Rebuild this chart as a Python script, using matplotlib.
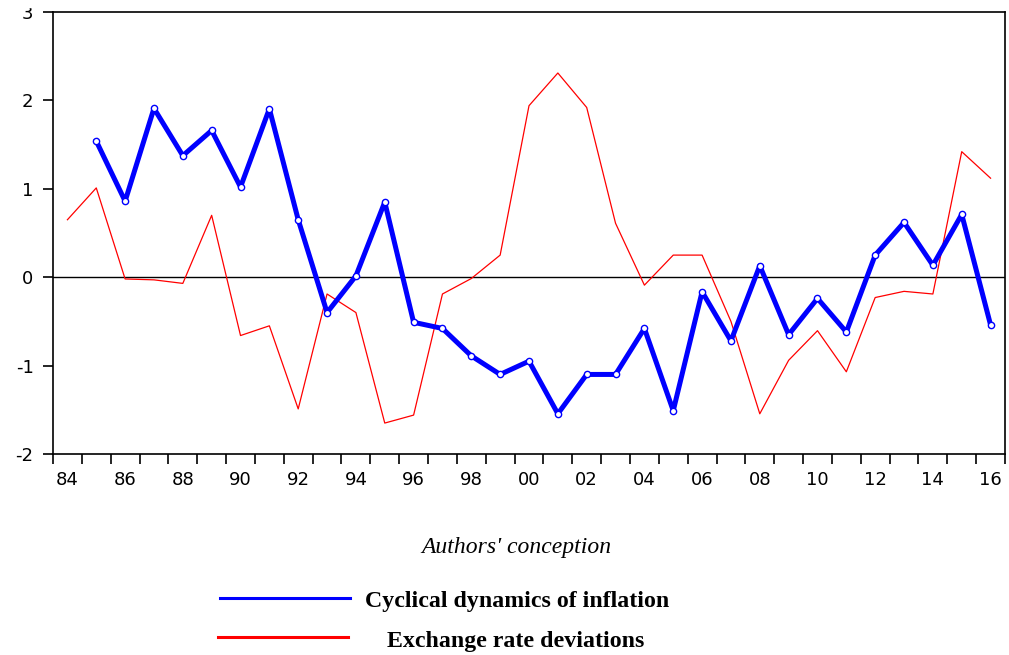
import matplotlib
matplotlib.use("Agg")
import matplotlib.pyplot as plt
from matplotlib.lines import Line2D
from matplotlib.patches import Rectangle

# annual observations, 1984-2016
years = list(range(1984, 2017))

# inflation cycle starts one year later (1985)
inflation_years = list(range(1985, 2017))
inflation = [1.54, 0.86, 1.91, 1.375, 1.66, 1.02, 1.905, 0.65, -0.40, 0.015,
             0.85, -0.51, -0.58, -0.89, -1.10, -0.95, -1.545, -1.10, -1.10, -0.58,
             -1.51, -0.165, -0.72, 0.13, -0.65, -0.24, -0.62, 0.25, 0.62, 0.135,
             0.71, -0.54]

exchange = [0.65, 1.01, -0.02, -0.03, -0.07, 0.70, -0.66, -0.55, -1.49, -0.19,
            -0.40, -1.65, -1.56, -0.19, -0.015, 0.25, 1.94, 2.31, 1.92, 0.61,
            -0.09, 0.25, 0.25, -0.50, -1.545, -0.94, -0.605, -1.07, -0.23, -0.16,
            -0.19, 1.42, 1.12]

label_years = list(range(1984, 2017, 2))
y_ticks = [-2, -1, 0, 1, 2, 3]

blue = "#0000ff"
red = "#ff0000"

fig = plt.figure(figsize=(10.09, 6.55), dpi=100)
ax = fig.add_axes([53 / 1009, 201 / 655, 952 / 1009, 442 / 655])

ax.axhline(0, color="black", lw=1.0, zorder=1)
ax.plot(years, exchange, color=red, lw=0.9, zorder=2)
ax.plot(inflation_years, inflation, color=blue, lw=3.6, zorder=3,
        marker="o", markersize=4.5, markerfacecolor="white",
        markeredgecolor=blue, markeredgewidth=1.0)

ax.set_xlim(1983.5, 2016.35)
ax.set_ylim(-2, 3)

# labels sit at the observation, tick marks between years
ax.set_xticks(label_years)
ax.set_xticklabels([f"{y % 100:02d}" for y in label_years])
ax.set_xticks([y + 0.5 for y in range(1983, 2017)], minor=True)
ax.tick_params(axis="x", which="major", length=0, pad=12, labelsize=13)
ax.tick_params(axis="x", which="minor", length=7, width=1.2, direction="out")

ax.set_yticks(y_ticks)
ax.set_yticklabels([str(v) for v in y_ticks])
ax.tick_params(axis="y", length=7, width=1.2, direction="out", pad=7,
               labelsize=13)

for s in ax.spines.values():
    s.set_linewidth(1.2)

# page edge clips the top label
fig.add_artist(Rectangle((0, 1 - 7 / 655), 50 / 1009, 7 / 655,
                         transform=fig.transFigure, color="white", zorder=10))

# source note and legend below the plot
fig.text(516 / 1009, 1 - 548 / 655, "Authors' conception", ha="center",
         va="center", family="Liberation Serif", style="italic", fontsize=17)

fig.add_artist(Line2D([220 / 1009, 350 / 1009], [1 - 598 / 655] * 2,
                      color=blue, lw=2.2))
fig.add_artist(Line2D([218 / 1009, 348 / 1009], [1 - 637 / 655] * 2,
                      color=red, lw=2.2))
fig.text(365 / 1009, 1 - 602 / 655, "Cyclical dynamics of inflation",
         ha="left", va="center", family="Liberation Serif",
         fontweight="bold", fontsize=17.2)
fig.text(516 / 1009, 1 - 642 / 655, "Exchange rate deviations",
         ha="center", va="center", family="Liberation Serif",
         fontweight="bold", fontsize=17.2)

fig.savefig("out.png", dpi=100)
